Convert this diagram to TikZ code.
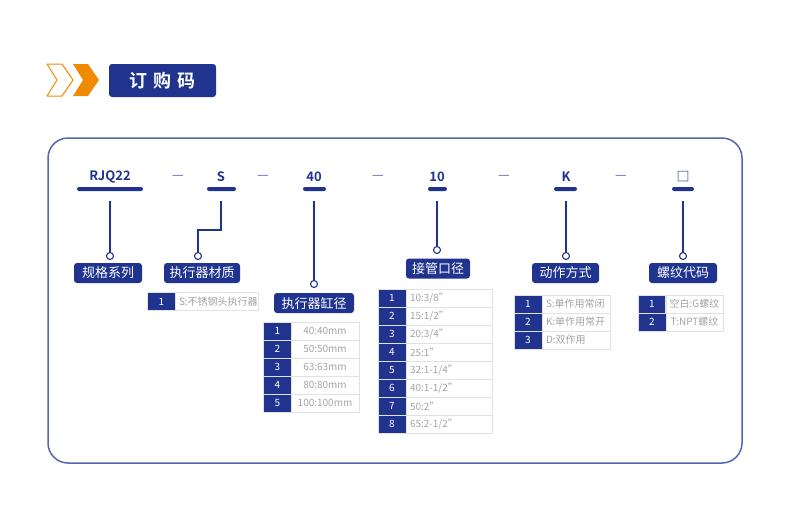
\documentclass[tikz,border=0pt]{standalone}
\usepackage{fontspec}
\setmainfont{Noto Sans CJK SC}[BoldFont={Noto Sans CJK SC Bold}]
\usepackage{tikz}
\usetikzlibrary{positioning}
\definecolor{navy}{HTML}{1F338F}
\definecolor{frameblue}{HTML}{5565B5}
\definecolor{codeorange}{HTML}{F08A00}
\definecolor{gridgray}{HTML}{E2E2E2}
\definecolor{textgray}{HTML}{A3A3A3}

\begin{document}
\begin{tikzpicture}[x=1pt, y=-1pt]
			\tikzstyle{Frame}	= [frameblue, line width=1.5pt, rounded corners=20pt]
			\tikzstyle{Header}	= [fill=navy, rounded corners=3pt, text=white, font=\bfseries\fontsize{18}{18}\selectfont, inner sep=0pt]
			\tikzstyle{Code}	= [text=navy, font=\bfseries\fontsize{13}{13}\selectfont, inner sep=0pt]
			\tikzstyle{Dash}	= [text=frameblue, font=\fontsize{13}{13}\selectfont, inner sep=0pt]
			\tikzstyle{Bar}		= [fill=navy, rounded corners=2pt, minimum height=4pt, inner sep=0pt]
			\tikzstyle{Stem}	= [navy, line width=1.1pt]
			\tikzstyle{Dot}		= [circle, draw=navy, fill=white, line width=1.1pt, minimum size=7pt, inner sep=0pt]
			\tikzstyle{Tag}		= [fill=navy, rounded corners=3pt, text=white, font=\fontsize{13}{13}\selectfont, minimum height=20pt, inner sep=0pt]
			\tikzstyle{Num}		= [fill=navy, draw=gridgray, text=white, font=\fontsize{10}{10}\selectfont, minimum width=28pt, minimum height=18pt, inner sep=0pt]
			\tikzstyle{Cell}	= [draw=gridgray, text=textgray, font=\fontsize{10}{10}\selectfont, minimum height=18pt, inner xsep=4pt, inner ysep=0pt]

			\useasboundingbox (0,0) rectangle (790,515);

			\draw [codeorange, line width=1pt, line join=round] (47,64) -- (62,64) -- (73,80) -- (62,96) -- (47,96) -- (57,80) -- cycle;
			\fill [codeorange] (73,64) -- (88,64) -- (99,80) -- (88,96) -- (73,96) -- (83,80) -- cycle;
			\node (title) at (162.5,80.5) [Header, minimum width=107pt, minimum height=33pt] {订\hspace{6pt}购\hspace{6pt}码};

			\draw [Frame] (48,138) rectangle (742,463);

			\node (c1) at (110,177) [Code] {RJQ22};
			\node (m1) at (178,177) [Dash] {—};
			\node (c2) at (221,177) [Code] {S};
			\node (m2) at (263,177) [Dash] {—};
			\node (c3) at (314,177) [Code] {40};
			\node (m3) at (378,177) [Dash] {—};
			\node (c4) at (437,177) [Code] {10};
			\node (m4) at (504,177) [Dash] {—};
			\node (c5) at (566,177) [Code] {K};
			\node (m5) at (621,177) [Dash] {—};
			\node (c6) at (683,177) [Code] {□};

			\node (b1) at (110,189) [Bar, minimum width=66pt] {};
			\node (b2) at (221.5,189) [Bar, minimum width=29pt] {};
			\node (b3) at (314.5,189) [Bar, minimum width=23pt] {};
			\node (b4) at (437.5,189) [Bar, minimum width=19pt] {};
			\node (b5) at (565.5,189) [Bar, minimum width=23pt] {};
			\node (b6) at (683,189) [Bar, minimum width=22pt] {};

			\coordinate (t1) at (110,201);
			\coordinate (t2) at (221,201);
			\coordinate (k2) at (198,230);
			\coordinate (t3) at (314,201);
			\coordinate (t4) at (437,201);
			\coordinate (t5) at (566,201);
			\coordinate (t6) at (683,201);

			\node (d1) at (110,256) [Dot] {};
			\node (d2) at (198,256) [Dot] {};
			\node (d3) at (314,284) [Dot] {};
			\node (d4) at (437,250) [Dot] {};
			\node (d5) at (566,256) [Dot] {};
			\node (d6) at (683,256) [Dot] {};

			\draw [-] (t1) to (d1) [Stem];
			\draw [-] (t2) |- (k2) -- (d2) [Stem];
			\draw [-] (t3) to (d3) [Stem];
			\draw [-] (t4) to (d4) [Stem];
			\draw [-] (t5) to (d5) [Stem];
			\draw [-] (t6) to (d6) [Stem];

			\node (l1) at (108,273) [Tag, minimum width=68pt] {规格系列};
			\node (l2) at (202,273) [Tag, minimum width=76pt] {执行器材质};
			\node (l3) at (314,303) [Tag, minimum width=80pt] {执行器缸径};
			\node (l4) at (438,268.5) [Tag, minimum width=64pt] {接管口径};
			\node (l5) at (565.5,273) [Tag, minimum width=67pt] {动作方式};
			\node (l6) at (683,273) [Tag, minimum width=68pt] {螺纹代码};

			\node (sn1) at (161.5,301.5) [Num] {1};
			\node (st1) at (216.5,301.5) [Cell, text width=75pt, align=left] {S:不锈钢头执行器};

			\node (dn1) at (277.5,331) [Num] {1};
			\node (dt1) at (325,331) [Cell, minimum width=68pt] {40:40mm};
			\node (dn2) at (277.5,349) [Num] {2};
			\node (dt2) at (325,349) [Cell, minimum width=68pt] {50:50mm};
			\node (dn3) at (277.5,367) [Num] {3};
			\node (dt3) at (325,367) [Cell, minimum width=68pt] {63:63mm};
			\node (dn4) at (277.5,385) [Num] {4};
			\node (dt4) at (325,385) [Cell, minimum width=68pt] {80:80mm};
			\node (dn5) at (277.5,403) [Num] {5};
			\node (dt5) at (325,403) [Cell, minimum width=68pt] {100:100mm};

			\node (pn1) at (392,298) [Num] {1};
			\node (pt1) at (449,298) [Cell, text width=78pt, align=left] {10:3/8"};
			\node (pn2) at (392,316) [Num] {2};
			\node (pt2) at (449,316) [Cell, text width=78pt, align=left] {15:1/2"};
			\node (pn3) at (392,334) [Num] {3};
			\node (pt3) at (449,334) [Cell, text width=78pt, align=left] {20:3/4"};
			\node (pn4) at (392,352) [Num] {4};
			\node (pt4) at (449,352) [Cell, text width=78pt, align=left] {25:1"};
			\node (pn5) at (392,370) [Num] {5};
			\node (pt5) at (449,370) [Cell, text width=78pt, align=left] {32:1-1/4"};
			\node (pn6) at (392,388) [Num] {6};
			\node (pt6) at (449,388) [Cell, text width=78pt, align=left] {40:1-1/2"};
			\node (pn7) at (392,406) [Num] {7};
			\node (pt7) at (449,406) [Cell, text width=78pt, align=left] {50:2"};
			\node (pn8) at (392,424) [Num] {8};
			\node (pt8) at (449,424) [Cell, text width=78pt, align=left] {65:2-1/2"};

			\node (an1) at (528,304) [Num] {1};
			\node (at1) at (576,304) [Cell, text width=60pt, align=left] {S:单作用常闭};
			\node (an2) at (528,322) [Num] {2};
			\node (at2) at (576,322) [Cell, text width=60pt, align=left] {K:单作用常开};
			\node (an3) at (528,340) [Num] {3};
			\node (at3) at (576,340) [Cell, text width=60pt, align=left] {D:双作用};

			\node (gn1) at (652,304) [Num] {1};
			\node (gt1) at (694.5,304) [Cell, minimum width=57pt] {空白:G螺纹};
			\node (gn2) at (652,322) [Num] {2};
			\node (gt2) at (694.5,322) [Cell, minimum width=57pt] {T:NPT螺纹};
		\end{tikzpicture}
\end{document}
